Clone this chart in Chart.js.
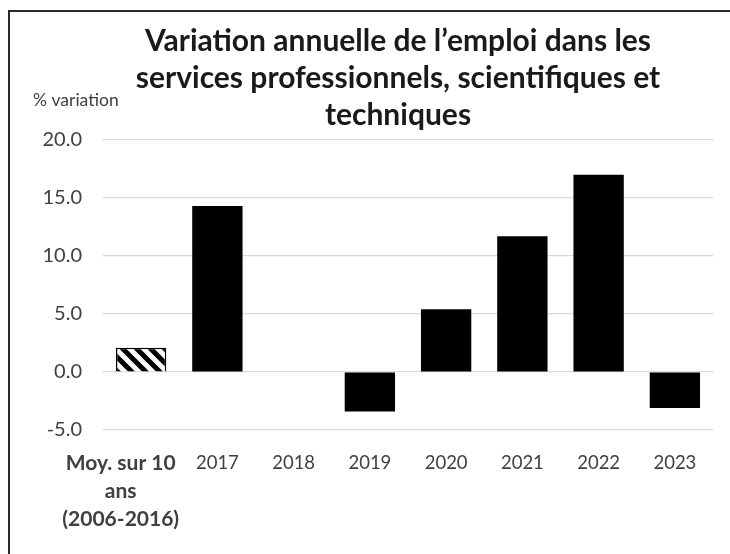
<!DOCTYPE html>
<html lang="fr">
<head>
  <meta charset="UTF-8">
  <title>Variation annuelle de l’emploi</title>
  <script src="https://cdn.jsdelivr.net/npm/chart.js"></script>
  <style>
    html, body { margin: 0; padding: 0; background: #fff; overflow: hidden; }
    #wrap {
      position: absolute; left: 8px; top: 10px;
      width: 722px; height: 544px; overflow: hidden;
      border-left: 2px solid #2b2b2b; border-top: 2px solid #2b2b2b;
    }
    #myChart { display: block; }
  </style>
</head>
<body>

<div id="wrap"><canvas id="myChart" width="776" height="542"></canvas></div>

<script>
  // categories and values (% annual change)
  const pad = '\u00a0'.repeat(8);
  const categories = [['Moy. sur 10' + pad, 'ans' + pad, '(2006-2016)' + pad], '2017', '2018', '2019', '2020', '2021', '2022', '2023'];
  const variation = [2.1, 14.3, 0.0, -3.4, 5.4, 11.7, 17.0, -3.1];
  const yTicks = [-5, 0, 5, 10, 15, 20];

  const titleLines = ['Variation annuelle de l’emploi dans les', 'services professionnels, scientifiques et', 'techniques'];
  const yTitle = '% variation';

  const FONT = 'Lato, "Open Sans", sans-serif';

  // hatch pattern for the 10-year average bar
  function makeHatch() {
    const s = 14;
    const c = document.createElement('canvas');
    c.width = s; c.height = s;
    const g = c.getContext('2d');
    g.fillStyle = '#fff';
    g.fillRect(0, 0, s, s);
    g.strokeStyle = '#000';
    g.lineWidth = 5;
    g.beginPath();
    g.moveTo(-s, -s); g.lineTo(2 * s, 2 * s);
    g.moveTo(-s, 0); g.lineTo(s, 2 * s);
    g.moveTo(0, -s); g.lineTo(2 * s, s);
    g.stroke();
    const ctx = document.createElement('canvas').getContext('2d');
    return ctx.createPattern(c, 'repeat');
  }
  const hatch = makeHatch();

  const yTitlePlugin = {
    id: 'yTitle',
    afterDraw(chart) {
      const ctx = chart.ctx;
      ctx.save();
      ctx.font = '17.5px ' + FONT;
      ctx.fillStyle = '#404040';
      ctx.textAlign = 'left';
      ctx.textBaseline = 'middle';
      ctx.fillText(yTitle, chart.chartArea.left - 70, chart.chartArea.top - 40);
      ctx.restore();
    }
  };

  const ctx = document.getElementById('myChart').getContext('2d');

  const myChart = new Chart(ctx, {
    type: 'bar',
    data: {
      labels: categories,
      datasets: [{
        data: variation,
        backgroundColor: variation.map((v, i) => i === 0 ? hatch : '#000'),
        borderColor: '#000',
        borderWidth: variation.map((v, i) => i === 0 ? 1.5 : 0),
        categoryPercentage: 1,
        barPercentage: 0.66
      }]
    },
    plugins: [yTitlePlugin],
    options: {
      responsive: false,
      animation: false,
      layout: { padding: 0 },
      plugins: {
        legend: { display: false },
        tooltip: { enabled: false },
        title: {
          display: true,
          text: titleLines,
          color: '#1a1a1a',
          font: { family: FONT, size: 30, weight: 'bold', lineHeight: '37px' },
          padding: { top: 11, bottom: 6 }
        }
      },
      scales: {
        x: {
          grid: { display: false },
          border: { display: false },
          afterFit: s => { s.height = 124; },
          ticks: {
            color: '#404040',
            padding: 11,
            maxRotation: 0,
            autoSkip: false,
            font: c => ({ family: FONT, size: c.index === 0 ? 21 : 18.5, weight: c.index === 0 ? 'bold' : 'normal', lineHeight: '28px' })
          }
        },
        y: {
          min: -5,
          max: 20,
          afterBuildTicks: s => { s.ticks = yTicks.map(v => ({ value: v })); },
          afterFit: s => { s.width = 93; },
          grid: { color: '#d9d9d9', lineWidth: 1.2, drawTicks: false },
          border: { display: false },
          ticks: {
            color: '#404040',
            padding: 21,
            font: { family: FONT, size: 20 },
            callback: v => v.toFixed(1)
          }
        },
        right: {
          position: 'right',
          grid: { display: false },
          border: { display: false },
          ticks: { display: false },
          afterFit: s => { s.width = 73; }
        }
      }
    }
  });
</script>

</body>
</html>
